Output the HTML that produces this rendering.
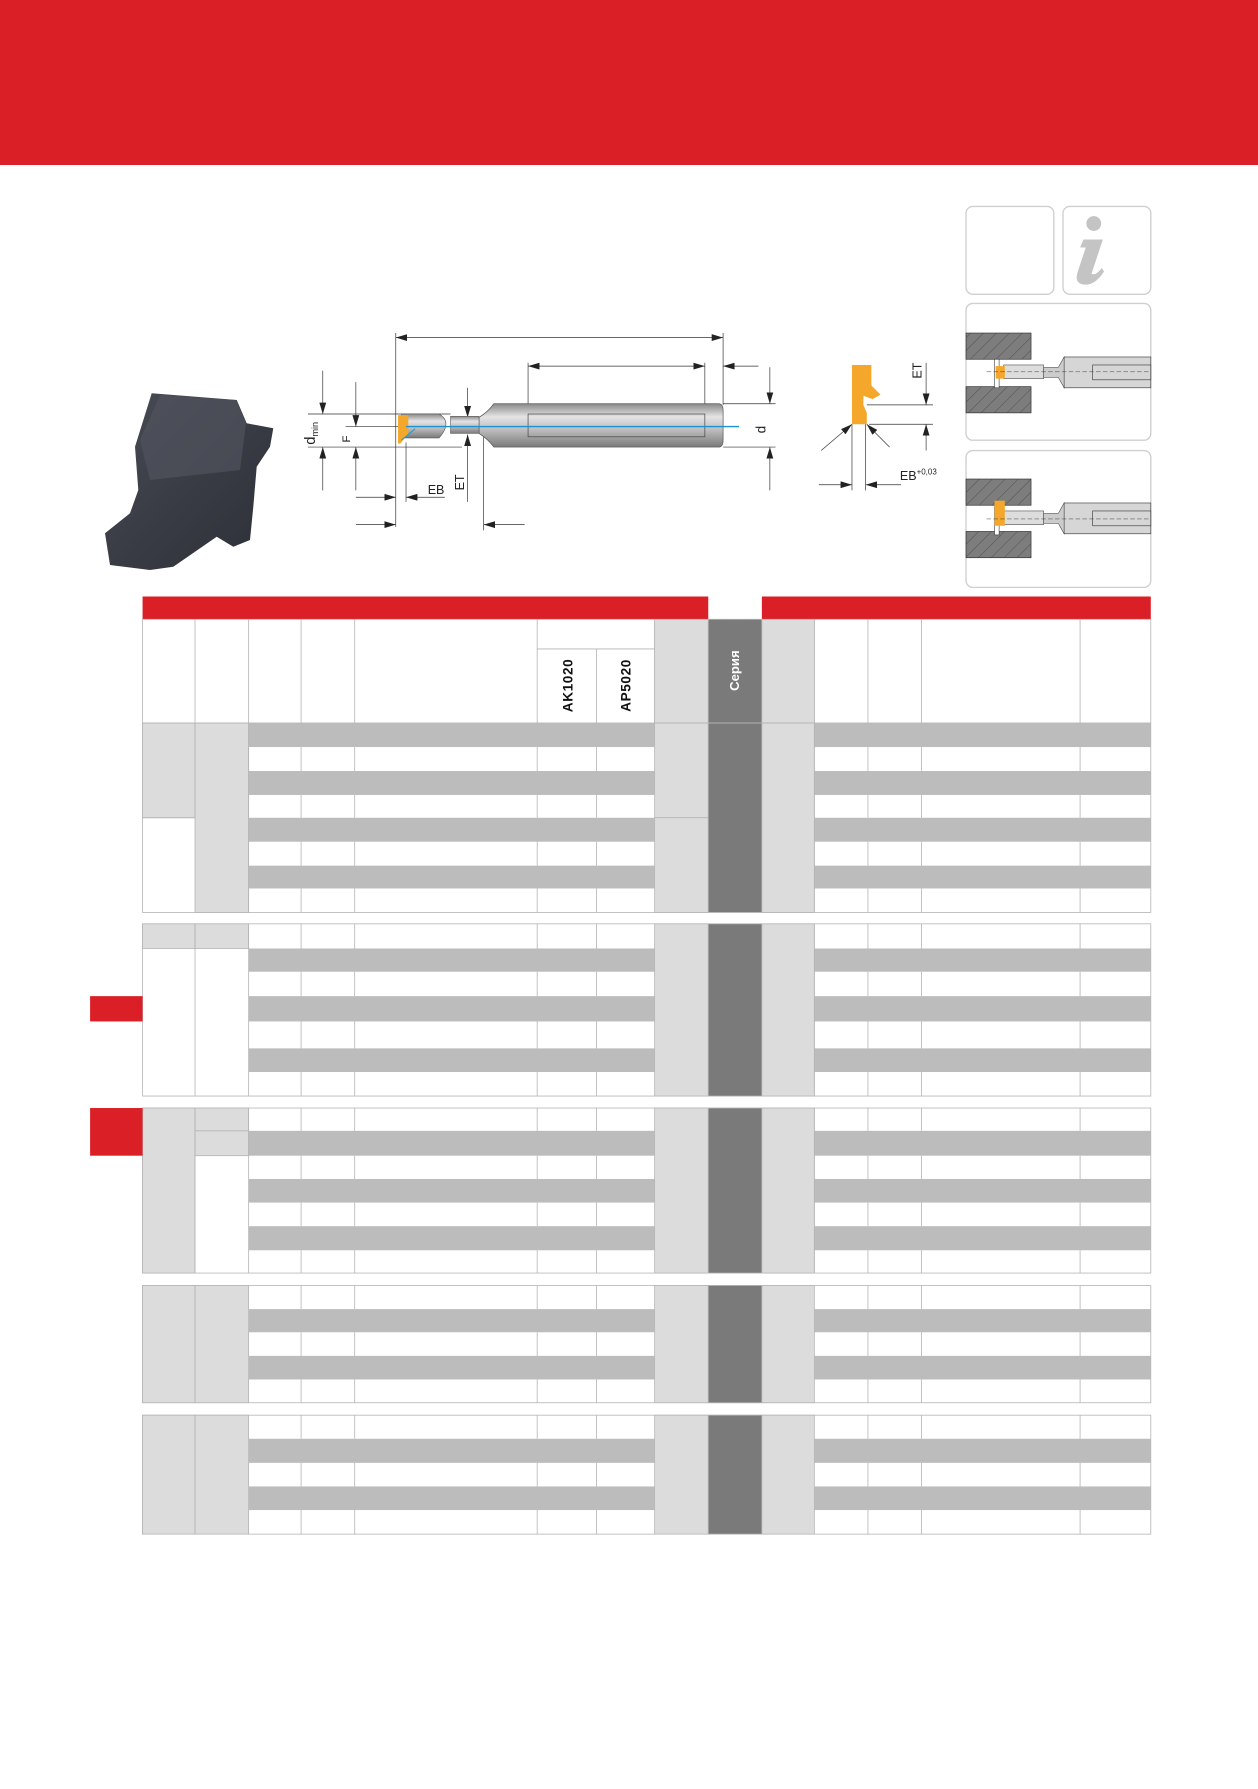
<!DOCTYPE html>
<html><head><meta charset="utf-8"><style>
html,body{margin:0;padding:0;background:#fff;}
svg{display:block;}
text{font-family:"Liberation Sans",sans-serif;}
</style></head><body>
<svg width="1258" height="1789" viewBox="0 0 1258 1789" xmlns="http://www.w3.org/2000/svg">
<defs>
<linearGradient id="sh" x1="0" y1="0" x2="0" y2="1">
<stop offset="0" stop-color="#8a8a8a"/><stop offset="0.3" stop-color="#e4e4e4"/><stop offset="0.6" stop-color="#bdbdbd"/><stop offset="1" stop-color="#7a7a7a"/></linearGradient>
<linearGradient id="ph" x1="0" y1="0" x2="1" y2="1">
<stop offset="0" stop-color="#4a4c56"/><stop offset="0.5" stop-color="#3a3c45"/><stop offset="1" stop-color="#2e3038"/></linearGradient>
<pattern id="hatch" width="8" height="8" patternUnits="userSpaceOnUse" patternTransform="rotate(45)">
<rect width="8" height="8" fill="#7d7d7d"/><line x1="0" y1="0" x2="0" y2="8" stroke="#555" stroke-width="1"/></pattern>
<marker id="a" viewBox="0 0 10 6" refX="10" refY="3" markerWidth="10" markerHeight="6" orient="auto-start-reverse" markerUnits="userSpaceOnUse"><path d="M0,0 L10,3 L0,6 z" fill="#222"/></marker>
</defs>
<rect x="0" y="0" width="1258" height="165" fill="#da1f26"/>
<!-- photo -->
<polygon points="151.7,393.3 236.7,400 246.7,423.3 273.3,428.3 270,446.7 256.7,466.7 253.3,506.7 250,540 233.3,546.7 216.7,536.7 173.3,566.7 150,570 110,565 105,533.3 130,513.3 138.3,490 135,446.7" fill="url(#ph)"/>
<polygon points="160,395 236,400 246,423 240,470 150,480 140,440" fill="#50525c" opacity="0.7"/>
<g transform="scale(1.14053)">
<!-- icon boxes -->
<rect x="847" y="181" width="77" height="77" rx="6" fill="#fff" stroke="#cfcfcf" stroke-width="1.2"/>
<rect x="932" y="181" width="77" height="77" rx="6" fill="#fff" stroke="#cfcfcf" stroke-width="1.2"/>
<circle cx="959" cy="196" r="6.5" fill="#c4c4c4"/>
<path d="M950,210 L967,210 L957,240 Q961,242 966,235 L968,238 Q959,252 948,249 Q942,247 945,238 L952,217 L947,217 z" fill="#c4c4c4"/>
<rect x="847" y="266" width="162" height="120" rx="6" fill="#fff" stroke="#cfcfcf" stroke-width="1.2"/>
<rect x="847" y="395" width="162" height="120" rx="6" fill="#fff" stroke="#cfcfcf" stroke-width="1.2"/>
<g>
<rect x="847" y="292" width="57" height="23" fill="url(#hatch)" stroke="#333" stroke-width="0.6"/>
<rect x="847" y="339" width="57" height="23" fill="url(#hatch)" stroke="#333" stroke-width="0.6"/>
<rect x="933" y="313" width="76" height="27" fill="#d6d6d6" stroke="#444" stroke-width="0.6"/>
<rect x="958" y="320" width="51" height="13" fill="none" stroke="#444" stroke-width="0.6"/>
<path d="M915,322 L928,322 L933,313 L933,340 L928,331 L915,331 z" fill="#ccc" stroke="#444" stroke-width="0.5"/>
<rect x="880" y="320" width="35" height="12" fill="#ddd" stroke="#444" stroke-width="0.5"/>
<rect x="872" y="315" width="4" height="25" fill="#fff" stroke="#333" stroke-width="0.5"/>
<rect x="873" y="321" width="8" height="11" fill="#f4a72a"/>
<line x1="865" y1="326" x2="1009" y2="326" stroke="#333" stroke-width="0.4" stroke-dasharray="4,2"/>
</g>
<g>
<rect x="847" y="420" width="57" height="23" fill="url(#hatch)" stroke="#333" stroke-width="0.6"/>
<rect x="847" y="466" width="57" height="23" fill="url(#hatch)" stroke="#333" stroke-width="0.6"/>
<rect x="933" y="441" width="76" height="27" fill="#d6d6d6" stroke="#444" stroke-width="0.6"/>
<rect x="958" y="448" width="51" height="13" fill="none" stroke="#444" stroke-width="0.6"/>
<path d="M915,450 L928,450 L933,441 L933,468 L928,459 L915,459 z" fill="#ccc" stroke="#444" stroke-width="0.5"/>
<rect x="880" y="448" width="35" height="12" fill="#ddd" stroke="#444" stroke-width="0.5"/>
<rect x="872" y="444" width="4" height="25" fill="#fff" stroke="#333" stroke-width="0.5"/>
<rect x="872" y="439" width="9" height="22" fill="#f4a72a"/>
<line x1="865" y1="455" x2="1009" y2="455" stroke="#333" stroke-width="0.4" stroke-dasharray="4,2"/>
</g>
<!-- main drawing -->
<g stroke="#333" stroke-width="0.6" fill="none">
<line x1="347" y1="292" x2="347" y2="462"/>
<line x1="634" y1="292" x2="634" y2="355"/>
<line x1="347" y1="296" x2="634" y2="296" marker-start="url(#a)" marker-end="url(#a)"/>
<line x1="463" y1="318" x2="463" y2="356"/>
<line x1="618" y1="318" x2="618" y2="356"/>
<line x1="463" y1="321" x2="618" y2="321" marker-start="url(#a)" marker-end="url(#a)"/>
<line x1="665" y1="321" x2="634" y2="321" marker-end="url(#a)"/>
<line x1="634" y1="354" x2="680" y2="354"/><line x1="634" y1="392" x2="680" y2="392"/>
<line x1="675" y1="322" x2="675" y2="354" marker-end="url(#a)"/>
<line x1="675" y1="430" x2="675" y2="392" marker-end="url(#a)"/>
<line x1="270" y1="363" x2="395" y2="363"/><line x1="270" y1="392" x2="405" y2="392"/>
<line x1="283" y1="325" x2="283" y2="363" marker-end="url(#a)"/>
<line x1="283" y1="430" x2="283" y2="392" marker-end="url(#a)"/>
<line x1="303" y1="374" x2="350" y2="374"/>
<line x1="312" y1="335" x2="312" y2="374" marker-end="url(#a)"/>
<line x1="312" y1="430" x2="312" y2="392" marker-end="url(#a)"/>
<line x1="312" y1="436" x2="347" y2="436" marker-end="url(#a)"/>
<line x1="390" y1="436" x2="356" y2="436" marker-end="url(#a)"/>
<line x1="356" y1="388" x2="356" y2="440"/>
<line x1="410" y1="340" x2="410" y2="366" marker-end="url(#a)"/>
<line x1="410" y1="440" x2="410" y2="381" marker-end="url(#a)"/>
<line x1="424" y1="370" x2="424" y2="465"/>
<line x1="312" y1="460" x2="347" y2="460" marker-end="url(#a)"/>
<line x1="460" y1="460" x2="424" y2="460" marker-end="url(#a)"/>
</g>
<path d="M433,354 L630,354 Q634,354 634,360 L634,386 Q634,392 630,392 L433,392 Q428,385 420,380 L420,366 Q428,361 433,354 z" fill="url(#sh)" stroke="#555" stroke-width="0.6"/>
<rect x="463" y="363" width="155" height="20" fill="none" stroke="#444" stroke-width="0.6"/>
<rect x="395" y="365" width="25" height="15" fill="url(#sh)" stroke="#555" stroke-width="0.5"/>
<path d="M352,363 L385,363 Q397,370 385,384 L352,384 z" fill="url(#sh)" stroke="#555" stroke-width="0.5"/>
<path d="M349,364 L358,364 L358,380 L351,389 L349,389 z" fill="#f4a72a"/>
<line x1="352" y1="386" x2="364" y2="376" stroke="#2a9ad6" stroke-width="1"/>
<line x1="356" y1="374" x2="648" y2="374" stroke="#1f8fd0" stroke-width="1.3"/>
<text x="0" y="0" font-size="13" transform="translate(276,390) rotate(-90)" fill="#222">d<tspan font-size="8" dy="3">min</tspan></text>
<text x="0" y="0" font-size="10" transform="translate(307,388) rotate(-90)" fill="#222">F</text>
<text x="0" y="0" font-size="12" transform="translate(671,380) rotate(-90)" fill="#222">d</text>
<text x="375" y="433" font-size="11" fill="#222">EB</text>
<text x="0" y="0" font-size="11" transform="translate(407,430) rotate(-90)" fill="#222">ET</text>
<!-- side view -->
<path d="M747,320 L764,320 L764,338 L772,346 L765,350 L757,347 L757,355 L760,362 L760,372 L747,372 z" fill="#f4a72a"/>
<g stroke="#333" stroke-width="0.6" fill="none">
<line x1="760" y1="355" x2="818" y2="355"/><line x1="762" y1="372" x2="818" y2="372"/>
<line x1="812" y1="318" x2="812" y2="355" marker-end="url(#a)"/>
<line x1="812" y1="395" x2="812" y2="372" marker-end="url(#a)"/>
<line x1="720" y1="395" x2="747" y2="372" marker-end="url(#a)"/>
<line x1="780" y1="392" x2="760" y2="372" marker-end="url(#a)"/>
<line x1="747" y1="372" x2="747" y2="430"/><line x1="759" y1="372" x2="759" y2="430"/>
<line x1="718" y1="425" x2="747" y2="425" marker-end="url(#a)"/>
<line x1="790" y1="425" x2="759" y2="425" marker-end="url(#a)"/>
</g>
<text x="0" y="0" font-size="11" transform="translate(808,332) rotate(-90)" fill="#222">ET</text>
<text x="789" y="421" font-size="11" fill="#222">EB<tspan font-size="7" dy="-5">+0,03</tspan></text>

<!-- TABLE -->
<rect x="125" y="523" width="496" height="20" fill="#da1f26"/>
<rect x="668" y="523" width="341" height="20" fill="#da1f26"/>
<g stroke="#b4b4b4" stroke-width="0.7">
<rect x="125" y="543" width="449" height="91" fill="#fff"/>
<rect x="714" y="543" width="295" height="91" fill="#fff"/>
<rect x="574" y="543" width="47" height="91" fill="#dcdcdc"/>
<rect x="621" y="543" width="47" height="91" fill="#7b7a7b"/>
<rect x="668" y="543" width="46" height="91" fill="#dcdcdc"/>
<path d="M171,543V634M218,543V634M264,543V634M311,543V634M471,543V634M523,569V634M471,569H574M761,543V634M808,543V634M947,543V634" fill="none"/>
</g>
<text x="0" y="0" font-size="11.5" font-weight="bold" fill="#fff" text-anchor="middle" transform="translate(648,588) rotate(-90)">Серия</text>
<text x="0" y="0" font-size="12" font-weight="bold" fill="#111" text-anchor="middle" transform="translate(502,601) rotate(-90)" letter-spacing="0.5">AK1020</text>
<text x="0" y="0" font-size="12" font-weight="bold" fill="#111" text-anchor="middle" transform="translate(553,601) rotate(-90)" letter-spacing="0.5">AP5020</text>

<!-- Block 1 -->
<g stroke="#b4b4b4" stroke-width="0.7">
<rect x="125" y="634" width="884" height="166" fill="#fff"/>
<rect x="125" y="634" width="46" height="83" fill="#dcdcdc"/>
<rect x="171" y="634" width="47" height="166" fill="#dcdcdc"/>
<rect x="574" y="634" width="47" height="83" fill="#dcdcdc"/>
<rect x="574" y="717" width="47" height="83" fill="#dcdcdc"/>
<rect x="621" y="634" width="47" height="166" fill="#7b7a7b"/>
<rect x="668" y="634" width="46" height="166" fill="#dcdcdc"/>
</g>
<g fill="#bcbcbc">
<rect x="218" y="634" width="356" height="21"/><rect x="714" y="634" width="295" height="21"/>
<rect x="218" y="676" width="356" height="21"/><rect x="714" y="676" width="295" height="21"/>
<rect x="218" y="717" width="356" height="21"/><rect x="714" y="717" width="295" height="21"/>
<rect x="218" y="759" width="356" height="20"/><rect x="714" y="759" width="295" height="20"/>
</g>
<path d="M125,717H171M264,655V676M311,655V676M471,655V676M523,655V676M264,697V717M311,697V717M471,697V717M523,697V717M264,738V759M311,738V759M471,738V759M523,738V759M264,779V800M311,779V800M471,779V800M523,779V800M761,655V676M808,655V676M947,655V676M761,697V717M808,697V717M947,697V717M761,738V759M808,738V759M947,738V759M761,779V800M808,779V800M947,779V800M218,634V800M714,634V800" stroke="#b4b4b4" stroke-width="0.7" fill="none"/>

<!-- Block 2 -->
<g stroke="#b4b4b4" stroke-width="0.7">
<rect x="125" y="810" width="884" height="151" fill="#fff"/>
<rect x="125" y="810" width="46" height="21.6" fill="#dcdcdc"/>
<rect x="171" y="810" width="47" height="21.6" fill="#dcdcdc"/>
<rect x="574" y="810" width="47" height="151" fill="#dcdcdc"/>
<rect x="621" y="810" width="47" height="151" fill="#7b7a7b"/>
<rect x="668" y="810" width="46" height="151" fill="#dcdcdc"/>
</g>
<g fill="#bcbcbc">
<rect x="218" y="831.6" width="356" height="20.4"/><rect x="714" y="831.6" width="295" height="20.4"/>
<rect x="218" y="873.4" width="356" height="22.2"/><rect x="714" y="873.4" width="295" height="22.2"/>
<rect x="218" y="919.2" width="356" height="20.7"/><rect x="714" y="919.2" width="295" height="20.7"/>
</g>
<path d="M171,810V961M218,810V961M714,810V961M264,810V831.6M311,810V831.6M471,810V831.6M523,810V831.6M761,810V831.6M808,810V831.6M947,810V831.6M264,852V873.4M311,852V873.4M471,852V873.4M523,852V873.4M761,852V873.4M808,852V873.4M947,852V873.4M264,895.6V919.2M311,895.6V919.2M471,895.6V919.2M523,895.6V919.2M761,895.6V919.2M808,895.6V919.2M947,895.6V919.2M264,939.9V961M311,939.9V961M471,939.9V961M523,939.9V961M761,939.9V961M808,939.9V961M947,939.9V961" stroke="#b4b4b4" stroke-width="0.7" fill="none"/>
<rect x="79" y="873.4" width="46" height="22.2" fill="#da1f26"/>

<!-- Block 3 -->
<g stroke="#b4b4b4" stroke-width="0.7">
<rect x="125" y="971.5" width="884" height="144.7" fill="#fff"/>
<rect x="125" y="971.5" width="46" height="144.7" fill="#dcdcdc"/>
<rect x="171" y="971.5" width="47" height="20" fill="#dcdcdc"/>
<rect x="171" y="991.5" width="47" height="21.8" fill="#dcdcdc"/>
<rect x="574" y="971.5" width="47" height="144.7" fill="#dcdcdc"/>
<rect x="621" y="971.5" width="47" height="144.7" fill="#7b7a7b"/>
<rect x="668" y="971.5" width="46" height="144.7" fill="#dcdcdc"/>
</g>
<g fill="#bcbcbc">
<rect x="218" y="991.5" width="356" height="21.8"/><rect x="714" y="991.5" width="295" height="21.8"/>
<rect x="218" y="1033.7" width="356" height="20.7"/><rect x="714" y="1033.7" width="295" height="20.7"/>
<rect x="218" y="1075.1" width="356" height="21.1"/><rect x="714" y="1075.1" width="295" height="21.1"/>
</g>
<path d="M171,971.5V1116.2M218,971.5V1116.2M714,971.5V1116.2M264,971.5V991.5M311,971.5V991.5M471,971.5V991.5M523,971.5V991.5M761,971.5V991.5M808,971.5V991.5M947,971.5V991.5M264,1013.3V1033.7M311,1013.3V1033.7M471,1013.3V1033.7M523,1013.3V1033.7M761,1013.3V1033.7M808,1013.3V1033.7M947,1013.3V1033.7M264,1054.4V1075.1M311,1054.4V1075.1M471,1054.4V1075.1M523,1054.4V1075.1M761,1054.4V1075.1M808,1054.4V1075.1M947,1054.4V1075.1M264,1096.2V1116.2M311,1096.2V1116.2M471,1096.2V1116.2M523,1096.2V1116.2M761,1096.2V1116.2M808,1096.2V1116.2M947,1096.2V1116.2" stroke="#b4b4b4" stroke-width="0.7" fill="none"/>
<rect x="79" y="971.5" width="46" height="41.8" fill="#da1f26"/>

<!-- Block 4 -->
<g stroke="#b4b4b4" stroke-width="0.7">
<rect x="125" y="1127.1" width="884" height="102.8" fill="#fff"/>
<rect x="125" y="1127.1" width="46" height="102.8" fill="#dcdcdc"/>
<rect x="171" y="1127.1" width="47" height="102.8" fill="#dcdcdc"/>
<rect x="574" y="1127.1" width="47" height="102.8" fill="#dcdcdc"/>
<rect x="621" y="1127.1" width="47" height="102.8" fill="#7b7a7b"/>
<rect x="668" y="1127.1" width="46" height="102.8" fill="#dcdcdc"/>
</g>
<g fill="#bcbcbc">
<rect x="218" y="1147.8" width="356" height="20.3"/><rect x="714" y="1147.8" width="295" height="20.3"/>
<rect x="218" y="1188.8" width="356" height="20.7"/><rect x="714" y="1188.8" width="295" height="20.7"/>
</g>
<path d="M264,1127.1V1147.8M311,1127.1V1147.8M471,1127.1V1147.8M523,1127.1V1147.8M761,1127.1V1147.8M808,1127.1V1147.8M947,1127.1V1147.8M264,1168.1V1188.8M311,1168.1V1188.8M471,1168.1V1188.8M523,1168.1V1188.8M761,1168.1V1188.8M808,1168.1V1188.8M947,1168.1V1188.8M264,1209.5V1229.9M311,1209.5V1229.9M471,1209.5V1229.9M523,1209.5V1229.9M761,1209.5V1229.9M808,1209.5V1229.9M947,1209.5V1229.9" stroke="#b4b4b4" stroke-width="0.7" fill="none"/>

<!-- Block 5 -->
<g stroke="#b4b4b4" stroke-width="0.7">
<rect x="125" y="1240.8" width="884" height="104.3" fill="#fff"/>
<rect x="125" y="1240.8" width="46" height="104.3" fill="#dcdcdc"/>
<rect x="171" y="1240.8" width="47" height="104.3" fill="#dcdcdc"/>
<rect x="574" y="1240.8" width="47" height="104.3" fill="#dcdcdc"/>
<rect x="621" y="1240.8" width="47" height="104.3" fill="#7b7a7b"/>
<rect x="668" y="1240.8" width="46" height="104.3" fill="#dcdcdc"/>
</g>
<g fill="#bcbcbc">
<rect x="218" y="1261.5" width="356" height="21.1"/><rect x="714" y="1261.5" width="295" height="21.1"/>
<rect x="218" y="1303.3" width="356" height="20.7"/><rect x="714" y="1303.3" width="295" height="20.7"/>
</g>
<path d="M264,1240.8V1261.5M311,1240.8V1261.5M471,1240.8V1261.5M523,1240.8V1261.5M761,1240.8V1261.5M808,1240.8V1261.5M947,1240.8V1261.5M264,1282.6V1303.3M311,1282.6V1303.3M471,1282.6V1303.3M523,1282.6V1303.3M761,1282.6V1303.3M808,1282.6V1303.3M947,1282.6V1303.3M264,1324V1345.1M311,1324V1345.1M471,1324V1345.1M523,1324V1345.1M761,1324V1345.1M808,1324V1345.1M947,1324V1345.1" stroke="#b4b4b4" stroke-width="0.7" fill="none"/>
</g>
</svg>
</body></html>
